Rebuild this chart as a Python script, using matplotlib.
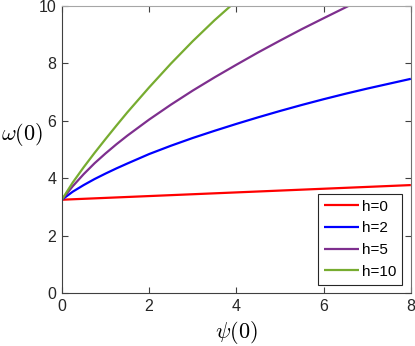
import matplotlib
matplotlib.use("Agg")
import matplotlib.pyplot as plt

plt.rcParams['font.family'] = ['Liberation Sans', 'DejaVu Sans']
plt.rcParams['mathtext.fontset'] = 'cm'

# values
psi_h0 = [0.0, 8.0]
om_h0 = [3.25, 3.76]

psi_h2 = [0.0, 0.25, 0.5, 0.75, 1.0, 1.25, 1.5, 2.0, 2.5, 3.0, 3.5, 4.0, 4.5, 5.0, 5.5, 6.0, 6.5, 7.0, 7.5, 8.0]
om_h2 = [3.25, 3.53, 3.76, 3.97, 4.16, 4.34, 4.51, 4.84, 5.13, 5.40, 5.65, 5.89, 6.12, 6.34, 6.55, 6.75, 6.94, 7.12, 7.29, 7.46]

psi_h5 = [0.0, 0.25, 0.5, 0.75, 1.0, 1.25, 1.5, 2.0, 2.5, 3.0, 3.5, 4.0, 4.5, 5.0, 5.5, 6.0, 6.6]
om_h5 = [3.25, 3.72, 4.14, 4.52, 4.86, 5.18, 5.48, 6.04, 6.56, 7.05, 7.51, 7.95, 8.38, 8.79, 9.19, 9.57, 10.02]

psi_h10 = [0.0, 0.25, 0.5, 0.75, 1.0, 1.25, 1.5, 2.0, 2.5, 3.0, 3.5, 3.9]
om_h10 = [3.25, 3.85, 4.38, 4.88, 5.36, 5.83, 6.29, 7.16, 7.99, 8.77, 9.50, 10.04]

labels = ['h=0', 'h=2', 'h=5', 'h=10']
colors = ['#ff0000', '#0000ff', '#7e2f8e', '#77ac30']

fig = plt.figure(figsize=(4.15, 3.46), dpi=100)
ax = fig.add_axes([0.149, 0.153, 0.841, 0.830])

series = [(psi_h0, om_h0), (psi_h2, om_h2), (psi_h5, om_h5), (psi_h10, om_h10)]
for (x, y), lab, c in zip(series, labels, colors):
    ax.plot(x, y, color=c, lw=1.6, label=lab, solid_capstyle='butt')

ax.set_xlim(0, 8)
ax.set_ylim(0, 10)
ax.set_xticks([0, 2, 4, 6, 8])
ax.set_yticks([0, 2, 4, 6, 8, 10])
ax.tick_params(direction='in', top=True, right=True, length=4, width=0.8,
               labelsize=11.5, labelcolor='#262626', color='#404040', pad=4)

ax.spines['left'].set_color('#404040')
ax.spines['bottom'].set_color('#404040')
ax.spines['top'].set_color('#a6a6a6')
ax.spines['right'].set_color('#707070')
for s in ax.spines.values():
    s.set_linewidth(0.8)

ax.set_xlabel(r'$\psi(0)$', fontsize=16, labelpad=4)
ax.set_ylabel(r'$\omega(0)$', fontsize=16, rotation=0)
ax.yaxis.set_label_coords(-0.115, 0.505)

leg = ax.legend(loc='lower right', fontsize=11, fancybox=False, framealpha=1,
                edgecolor='#262626', handlelength=2.3, handletextpad=0.2,
                labelspacing=0.5, borderpad=0.4, borderaxespad=0.55)
leg.get_frame().set_linewidth(0.8)

fig.savefig('out.png', dpi=100)
